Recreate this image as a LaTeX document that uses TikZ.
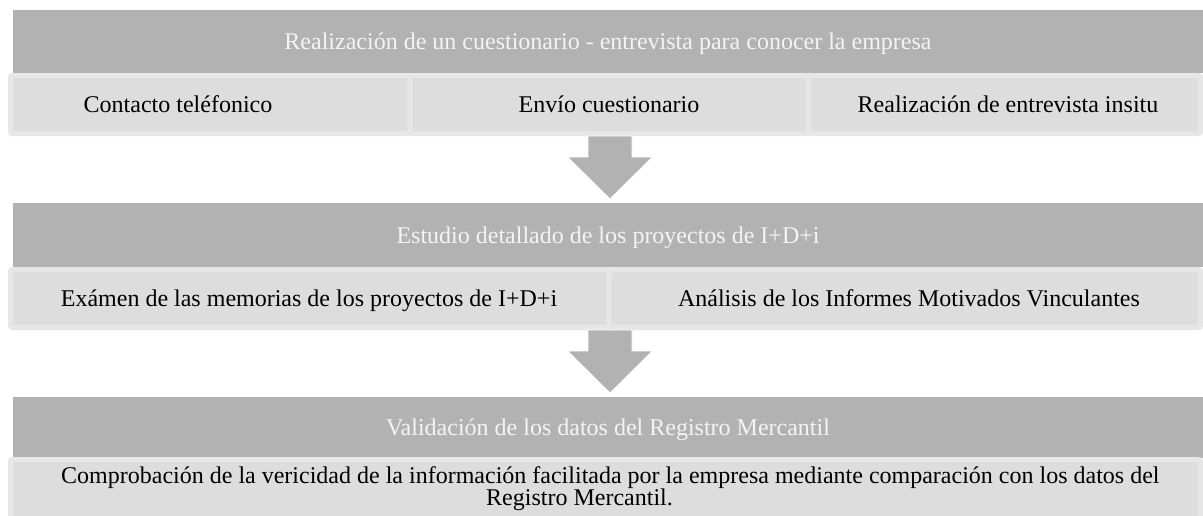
\documentclass[tikz,border=0pt]{standalone}
\usepackage{fontspec}
\setmainfont{Liberation Serif}
\definecolor{hdr}{HTML}{B2B2B2}
\definecolor{hdrtext}{HTML}{F4F4F4}
\definecolor{subfill}{HTML}{DDDDDD}
\definecolor{subborder}{HTML}{E6E6E6}
\definecolor{arrowfill}{HTML}{B2B2B2}
\begin{document}
\begin{tikzpicture}[x=1pt,y=-1pt,
  header/.style={fill=hdr, draw=none, anchor=north west, inner sep=0pt, outer sep=0pt,
    minimum width=1190pt, minimum height=#1},
  subbox/.style={fill=subfill, draw=subborder, line width=5pt, rounded corners=2pt,
    anchor=north west, inner sep=0pt, outer sep=0pt, minimum height=58pt, minimum width=#1},
  htxt/.style={anchor=base, inner sep=0pt, text=hdrtext, font=\fontsize{24}{22}\selectfont},
  stxt/.style={anchor=base, inner sep=0pt, text=black, font=\fontsize{24}{22}\selectfont},
  downarrow/.style={fill=arrowfill, draw=white, line width=0.8pt, line join=miter}
]
\useasboundingbox (0,0) rectangle (1203,515);
\fill[white] (0,0) rectangle (1203,515);

% Row 1
\node[header=63pt] (h1) at (13,10) {};
\node[subbox=399.5pt] (s11) at (10.5,75.5) {};
\node[subbox=398.5pt] (s12) at (410,75.5) {};
\node[subbox=392pt] (s13) at (808.5,75.5) {};
\node[htxt] (th1) at (608,49.5) {Realización de un cuestionario - entrevista para conocer la empresa};
\node[stxt] (ts11) at (178,112.5) {Contacto teléfonico};
\node[stxt] (ts12) at (609,112.5) {Envío cuestionario};
\node[stxt] (ts13) at (1008,112.5) {Realización de entrevista insitu};

% Row 2
\node[header=64pt] (h2) at (13,203) {};
\node[subbox=598.5pt] (s21) at (10.5,269.5) {};
\node[subbox=591.5pt] (s22) at (609,269.5) {};
\node[htxt] (th2) at (608,243) {Estudio detallado de los proyectos de I+D+i};
\node[stxt] (ts21) at (309,306) {Exámen de las memorias de los proyectos de I+D+i};
\node[stxt] (ts22) at (909,306) {Análisis de los Informes Motivados Vinculantes};

% Row 3
\node[header=61pt] (h3) at (13,397) {};
\node[subbox=1190pt, minimum height=70pt] (s31) at (10.5,459.5) {};
\node[htxt] (th3) at (608,435.5) {Validación de los datos del Registro Mercantil};
\node[stxt, anchor=base west] (ts31) at (61,483) {Comprobación de la vericidad de la información facilitada por la empresa mediante comparación con los datos del};
\node[stxt, anchor=base west] (ts32) at (486,505) {Registro Mercantil.};

% Arrows
\coordinate (a1) at (610,136);
\coordinate (a2) at (610,330);
\foreach \a in {a1,a2}{
  \draw[downarrow] (\a) ++(-22,0) -- ++(0,21) -- ++(-20.5,0) -- ++(42.5,42) -- ++(42.5,-42) -- ++(-20.5,0) -- ++(0,-21) -- cycle;
}
\end{tikzpicture}
\end{document}
